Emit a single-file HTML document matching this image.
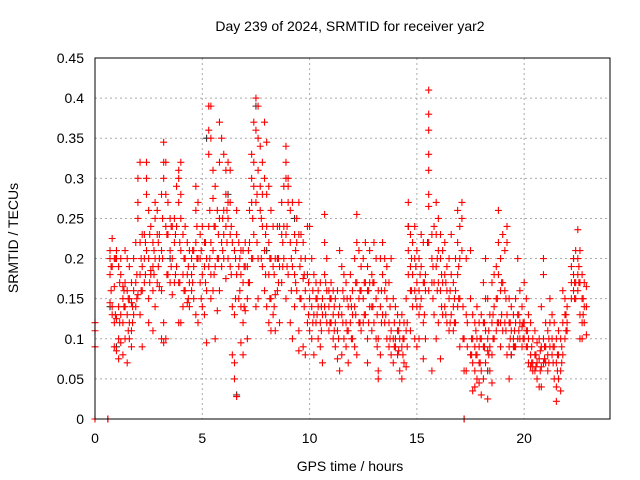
<!DOCTYPE html>
<html><head><meta charset="utf-8"><style>
body{margin:0;background:#fff}
svg{display:block;font-family:"Liberation Sans",sans-serif}
</style></head><body>
<svg id="chart" width="640" height="480" xmlns="http://www.w3.org/2000/svg">
<rect width="640" height="480" fill="#fff"/>
<text x="350" y="31" font-size="14" text-anchor="middle">Day 239 of 2024, SRMTID for receiver yar2</text>
<text x="350" y="471" font-size="14" text-anchor="middle">GPS time / hours</text>
<text transform="translate(18,238) rotate(-90)" font-size="14" text-anchor="middle">SRMTID / TECUs</text>
<g id="grid"></g><g id="ticks"></g><g id="marks"></g>
<rect x="95" y="58" width="515" height="361" fill="none" stroke="#000" stroke-width="1"/>
</svg>
<script>
const xTicks=[0,5,10,15,20];
const yTicks=[0,0.05,0.1,0.15,0.2,0.25,0.3,0.35,0.4,0.45];
const yTickLabels=["0","0.05","0.1","0.15","0.2","0.25","0.3","0.35","0.4","0.45"];
const hours=[0.0,0.6,0.7,0.8,0.9,1.0,1.1,1.2,1.3,1.4,1.5,1.6,1.7,1.8,1.9,2.0,2.1,2.2,2.3,2.4,2.5,2.6,2.7,2.8,2.9,3.0,3.1,3.2,3.3,3.4,3.5,3.6,3.7,3.8,3.9,4.0,4.1,4.2,4.3,4.4,4.5,4.6,4.7,4.8,4.9,5.0,5.1,5.2,5.3,5.4,5.5,5.6,5.7,5.8,5.9,6.0,6.1,6.2,6.3,6.4,6.5,6.6,6.7,6.8,6.9,7.0,7.1,7.2,7.3,7.4,7.5,7.6,7.7,7.8,7.9,8.0,8.1,8.2,8.3,8.4,8.5,8.6,8.7,8.8,8.9,9.0,9.1,9.2,9.3,9.4,9.5,9.6,9.7,9.8,9.9,10.0,10.1,10.2,10.3,10.4,10.5,10.6,10.7,10.8,10.9,11.0,11.1,11.2,11.3,11.4,11.5,11.6,11.7,11.8,11.9,12.0,12.1,12.2,12.3,12.4,12.5,12.6,12.7,12.8,12.9,13.0,13.1,13.2,13.3,13.4,13.5,13.6,13.7,13.8,13.9,14.0,14.1,14.2,14.3,14.4,14.5,14.6,14.7,14.8,14.9,15.0,15.1,15.2,15.3,15.4,15.55,15.7,15.8,15.9,16.0,16.1,16.2,16.3,16.4,16.5,16.6,16.7,16.8,16.9,17.0,17.1,17.2,17.3,17.5,17.6,17.7,17.8,17.9,18.0,18.1,18.2,18.3,18.4,18.5,18.6,18.7,18.8,18.9,19.0,19.1,19.2,19.3,19.4,19.5,19.6,19.7,19.8,19.9,20.0,20.1,20.2,20.3,20.4,20.5,20.6,20.7,20.8,20.9,21.0,21.1,21.2,21.3,21.4,21.5,21.6,21.7,21.8,21.9,22.0,22.2,22.3,22.4,22.5,22.6,22.7,22.8,22.9];
const tecu=[[.09,.11,.12,0],[0,0],[.21,.18,.2,.145],[.225,.19,.14,.13],[.2,.12,.09,.165],[.21,.2,.085,.125],[.19,.1,.075,.14],[.18,.13,.095,.2],[.165,.15,.12,.08],[.17,.14,.1,.21],[.2,.16,.07,.13],[.15,.12,.1,.19],[.145,.11,.17,.09],[.16,.13,.2],[.17,.22,.14],[.25,.27,.3,.155],[.32,.22,.18,.13],[.23,.19,.09,.16],[.23,.2,.17],[.32,.3,.28,.21],[.26,.2,.15,.12],[.24,.185,.18],[.22,.19,.11,.16],[.27,.25,.2,.14],[.26,.23,.17],[.23,.2,.165],[.28,.21,.16,.1],[.345,.32,.3,.12,.095],[.32,.28,.24,.1],[.27,.23,.18],[.25,.21,.17],[.24,.2,.155],[.25,.22,.17],[.29,.24,.19],[.31,.3,.27,.17,.12],[.32,.28,.25,.21,.12],[.23,.18,.14],[.24,.2,.16],[.22,.18,.145],[.21,.17,.14],[.2,.16,.18],[.21,.19,.15],[.29,.26,.22,.13],[.27,.2,.12],[.23,.2,.17],[.24,.18,.14],[.22,.19,.13],[.2,.16,.095],[.39,.36,.33,.24,.19],[.39,.35,.22,.18,.15],[.31,.275,.21,.16],[.29,.24,.19,.1],[.26,.2,.135],[.37,.32,.25,.16],[.35,.22,.19],[.33,.26,.23,.2],[.31,.28,.24,.175],[.32,.27,.25,.2],[.31,.27,.23,.19],[.22,.14,.08],[.21,.13,.07,.05],[.26,.23,.18,.028],[.22,.19,.15],[.21,.18,.14,.095],[.21,.17,.12,.08],[.22,.19,.135],[.19,.15,.1],[.26,.22,.17],[.33,.3,.27,.2],[.37,.32,.29,.23],[.4,.36,.27,.14],[.39,.35,.31,.2,.15],[.34,.29,.26],[.32,.28,.24,.19],[.37,.3,.21,.16],[.345,.28,.24,.14],[.29,.22,.18,.12],[.26,.2,.15,.11],[.24,.19,.13],[.2,.155,.11],[.24,.2,.16],[.24,.19,.12],[.27,.23,.17],[.29,.24,.2],[.34,.32,.3,.23,.15],[.3,.29,.27,.18],[.26,.22,.12],[.27,.19,.1],[.23,.18,.14],[.25,.22,.16],[.27,.23,.11,.085],[.23,.2,.15],[.22,.175,.09],[.2,.16,.08],[.24,.18,.12],[.24,.15,.11],[.2,.14,.1],[.18,.13,.08],[.17,.15,.12],[.16,.14,.1],[.17,.12,.09],[.15,.13,.07],[.255,.22,.18,.14],[.2,.16,.12],[.16,.14,.11],[.17,.15,.12],[.16,.13,.1],[.15,.12,.09],[.16,.11,.075],[.21,.14,.06],[.19,.13,.08],[.18,.15,.1],[.17,.12,.09],[.14,.11,.07],[.18,.15,.12],[.16,.13,.1],[.2,.14,.09],[.255,.22,.17,.08],[.21,.15,.12],[.19,.16,.11],[.2,.15,.12],[.22,.17,.13],[.19,.16,.1,.07],[.21,.17,.14],[.18,.14,.11],[.22,.17,.12],[.2,.15,.1],[.16,.1,.05,.06],[.2,.14,.08],[.22,.18,.13],[.2,.16,.12],[.19,.15,.1],[.17,.12,.09],[.2,.11,.08],[.15,.1,.07],[.14,.1,.09],[.13,.11,.08],[.12,.1,.06],[.13,.09,.05],[.12,.1,.07],[.15,.11,.065],[.27,.24,.21,.18],[.23,.19,.16,.11],[.22,.18,.14],[.24,.2,.16,.1],[.21,.17,.14,.09],[.2,.16,.13,.1],[.23,.19,.15],[.22,.17,.12,.075],[.18,.16,.1],[.41,.38,.36,.33,.31,.28,.265],[.23,.2,.17,.06],[.24,.17,.13],[.27,.23,.19,.1],[.25,.21,.17,.12],[.23,.2,.16,.075],[.21,.17,.13],[.22,.18,.14],[.19,.16,.12],[.2,.15,.11],[.23,.18,.13],[.17,.14,.11],[.2,.16,.12],[.26,.22,.18,.14],[.24,.2,.15,.09],[.27,.25,.21],[0,.06,.1],[.2,.13,.06],[.21,.15,.08],[.13,.1,.07,.035],[.12,.09,.06,.04],[.14,.1,.08,.05],[.12,.09,.07,.045],[.13,.1,.06,.03],[.17,.12,.09,.05],[.2,.15,.11,.07],[.15,.1,.085,.025],[.13,.09,.06],[.17,.12,.08,.045],[.18,.14,.1],[.19,.15,.11],[.26,.22,.18,.12],[.2,.16,.12,.09],[.23,.17,.11],[.21,.16,.12],[.24,.22,.13,.08],[.15,.12,.09,.05],[.14,.11,.08],[.13,.1,.09],[.15,.12,.09],[.2,.13,.1],[.16,.12,.1],[.14,.115,.09],[.17,.12,.1],[.15,.11,.09],[.13,.1,.07],[.12,.08,.065],[.1,.07,.06],[.11,.08,.06],[.095,.07,.05],[.1,.075,.04],[.14,.09,.065,.04],[.2,.18,.1,.07],[.12,.09,.07],[.11,.08,.06],[.15,.12,.09],[.13,.1,.08],[.12,.09,.05],[.1,.07,.04,.022],[.11,.08,.05],[.1,.06,.035],[.16,.12,.08],[.15,.13,.1],[.14,.12,.11],[.19,.17,.15],[.2,.18,.16],[.21,.17,.15],[.236,.2,.18,.16],[.21,.17,.13,.1],[.18,.15,.12,.1],[.17,.14,.12],[.165,.14,.105]];
const midHours=[0.75,0.95,1.15,1.35,1.55,1.75,1.95,2.15,2.35,2.55,2.75,2.95,3.15,3.35,3.55,3.75,3.95,4.15,4.35,4.55,4.75,4.95,5.15,5.35,5.55,5.75,5.95,6.15,6.35,6.55,6.75,6.95,7.15,7.35,7.55,7.75,7.95,8.15,8.35,8.55,8.75,8.95,9.15,9.35,9.55,9.75,9.95,10.15,10.35,10.55,10.75,10.95,11.15,11.35,11.55,11.75,11.95,12.15,12.35,12.55,12.75,12.95,13.15,13.35,13.55,13.75,13.95,14.15,14.35,14.55,14.75,14.95,15.15,15.35,15.55,15.75,15.95,16.15,16.35,16.55,16.75,16.95,17.15,17.35,17.55,17.75,17.95,18.15,18.35,18.55,18.75,18.95,19.15,19.35,19.55,19.75,19.95,20.15,20.35,20.55,20.75,20.95,21.15,21.35,21.55,21.75,21.95,22.35,22.55,22.75];
const midTecu=[[.19,.16],[.2,.13],[.17,.12],[.16,.14],[.15,.11],[.14,.12],[.18,.15],[.2,.16],[.22,.18],[.23,.17],[.21,.18],[.22,.19],[.25,.2],[.23,.18],[.24,.19],[.23,.18],[.22,.17],[.2,.16],[.19,.15],[.21,.17],[.24,.2],[.21,.15],[.22,.17],[.26,.2],[.24,.18],[.23,.2],[.25,.21],[.26,.22],[.24,.18],[.2,.15],[.2,.16],[.19,.14],[.21,.17],[.25,.2],[.28,.22],[.25,.2],[.23,.18],[.2,.15],[.18,.14],[.2,.17],[.22,.19],[.24,.19],[.2,.16],[.21,.17],[.19,.15],[.18,.14],[.17,.13],[.16,.12],[.15,.13],[.14,.11],[.17,.13],[.15,.12],[.14,.11],[.13,.1],[.16,.12],[.15,.11],[.14,.1],[.17,.13],[.16,.12],[.17,.13],[.16,.12],[.17,.14],[.13,.09],[.16,.12],[.17,.13],[.14,.1],[.12,.09],[.11,.085],[.1,.08],[.12,.09],[.2,.16],[.19,.15],[.18,.14],[.17,.13],[.22,.16],[.19,.15],[.2,.16],[.18,.14],[.17,.13],[.16,.12],[.15,.12],[.19,.15],[.14,.1],[.12,.09],[.1,.08],[.11,.08],[.1,.07],[.12,.09],[.11,.08],[.13,.1],[.15,.12],[.17,.13],[.15,.11],[.12,.1],[.11,.09],[.13,.11],[.12,.1],[.11,.09],[.09,.07],[.08,.065],[.085,.06],[.09,.075],[.1,.07],[.09,.07],[.08,.06],[.09,.07],[.13,.11],[.17,.15],[.19,.17],[.15,.13]];
const darkHours=[0.7,1.0,3.5,5.2,6.2,6.6,7.5,8.0,9.3,14.6,15.5,17.2,18.3,19.4,21.6,22.3];
const darkTecu=[.14,.09,.2,.35,.28,.03,.39,.21,.25,.24,.22,0,.06,.08,.05,.2];

const X0=95,X1=610,Y0=419,Y1=58,XMAX=24,YMAX=0.45;
const sx=h=>X0+h*(X1-X0)/XMAX;
const sy=v=>Y0-v*(Y0-Y1)/YMAX;
const NS="http://www.w3.org/2000/svg";
const grid=document.getElementById('grid'),ticks=document.getElementById('ticks'),marks=document.getElementById('marks');
function mk(tag,attrs,parent){const e=document.createElementNS(NS,tag);for(const k in attrs)e.setAttribute(k,attrs[k]);parent.appendChild(e);return e;}
xTicks.forEach(t=>{
  const x=sx(t);
  if(t>0){const g=mk('line',{x1:x,x2:x,y1:Y1,y2:Y0,stroke:'#aaa','stroke-dasharray':'2,3'},grid);
  
  }
  const l=mk('text',{x:x,y:443,'font-size':14,'text-anchor':'middle'},ticks);l.textContent=t;
  
  
});
yTicks.forEach((t,i)=>{
  const y=sy(t);
  if(t>0&&t<YMAX){const g=mk('line',{x1:X0,x2:X1,y1:y,y2:y,stroke:'#aaa','stroke-dasharray':'2,3'},grid);
  
  }
  const l=mk('text',{x:84,y:y+5,'font-size':14,'text-anchor':'end'},ticks);l.textContent=yTickLabels[i];
  
  
});
function plus(h,v,color){
  const x=sx(h),y=sy(v);
  const p=mk('path',{d:`M${x-3.5},${y}H${x+3.5}M${x},${y-3.5}V${y+3.5}`,stroke:color,'stroke-width':1.1,fill:'none'},marks);
  
  
}
darkHours.forEach((h,i)=>plus(h,darkTecu[i],'#333'));
hours.forEach((h,i)=>tecu[i].forEach(v=>plus(h,v,'#ff0000')));
midHours.forEach((h,i)=>midTecu[i].forEach(v=>plus(h,v,'#ff0000')));
</script>
</body></html>
